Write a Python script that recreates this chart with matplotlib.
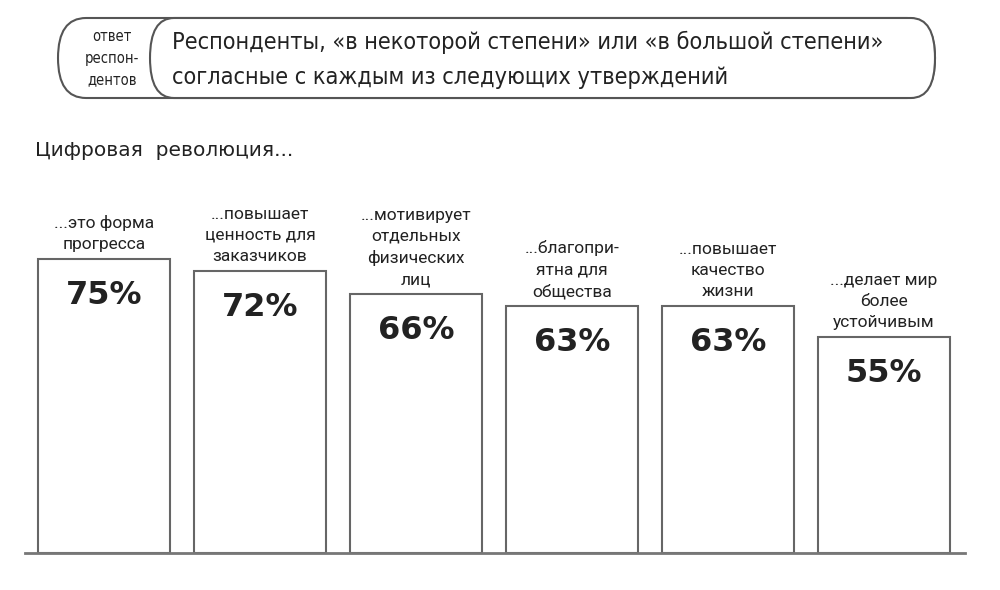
import matplotlib.pyplot as plt
from matplotlib.patches import FancyBboxPatch

# Data
labels = [
    '...это форма\nпрогресса',
    '...повышает\nценность для\nзаказчиков',
    '...мотивирует\nотдельных\nфизических\nлиц',
    '...благопри-\nятна для\nобщества',
    '...повышает\nкачество\nжизни',
    '...делает мир\nболее\nустойчивым',
]
values = [75, 72, 66, 63, 63, 55]
value_labels = ['75%', '72%', '66%', '63%', '63%', '55%']

header_side = 'ответ\nреспон-\nдентов'
header_main = 'Респонденты, «в некоторой степени» или «в большой степени»\nсогласные с каждым из следующих утверждений'
subtitle = 'Цифровая  революция...'

W, H = 1000, 590
fig = plt.figure(figsize=(10, 5.9), dpi=100)

# overlay axes in pixel units for the header
ov = fig.add_axes([0, 0, 1, 1])
ov.set_xlim(0, W)
ov.set_ylim(H, 0)
ov.axis('off')

edge = '#555555'
outer = FancyBboxPatch((58, 18), 877, 80,
                       boxstyle='round,pad=0,rounding_size=28',
                       mutation_aspect=40 / 28,
                       fc='white', ec=edge, lw=1.5)
inner = FancyBboxPatch((150, 18), 785, 80,
                       boxstyle='round,pad=0,rounding_size=24',
                       mutation_aspect=40 / 24,
                       fc='white', ec=edge, lw=1.5)
ov.add_patch(outer)
ov.add_patch(inner)

narrow = ['DejaVu Sans']
ov.text(112, 58, header_side, ha='center', va='center', fontsize=10.5,
        family=narrow, fontstretch='condensed', color='#222222',
        linespacing=1.55)
ov.text(172, 60, header_main, ha='left', va='center', fontsize=16.8,
        family=narrow, fontstretch='condensed', color='#222222',
        linespacing=1.7)
ov.text(35, 150, subtitle, ha='left', va='center', fontsize=14.5,
        family=['DejaVu Sans'], fontstretch='normal', color='#222222')

# bar axes: baseline at y=553 px, 3.92 px per percent
spacing = 156.0
left_px, right_px = 25, 965
base_px = 553
px_per = 3.92
ymax = 115
ax_h = ymax * px_per
ax = fig.add_axes([left_px / W, (H - base_px) / H,
                   (right_px - left_px) / W, ax_h / H])
x0 = -(104 - left_px) / spacing
ax.set_xlim(x0, x0 + (right_px - left_px) / spacing)
ax.set_ylim(0, ymax)
ax.patch.set_alpha(0)

xs = list(range(len(values)))
ax.bar(xs, values, width=132 / spacing, color='white', edgecolor='#666666',
       linewidth=1.5, zorder=2)

for i, (v, lab, vl) in enumerate(zip(values, labels, value_labels)):
    ax.annotate(lab, (i, v), xytext=(0, 5), textcoords='offset points',
                ha='center', va='bottom', fontsize=12.5,
                family=['Roboto', 'DejaVu Sans'], color='#222222',
                linespacing=1.5)
    ax.annotate(vl, (i, v), xytext=(0, -15), textcoords='offset points',
                ha='center', va='top', fontsize=23, fontweight='bold',
                family=['DejaVu Sans'], color='#222222')

for s in ['top', 'right', 'left']:
    ax.spines[s].set_visible(False)
ax.spines['bottom'].set_color('#777777')
ax.spines['bottom'].set_linewidth(2)
ax.set_xticks([])
ax.set_yticks([])

fig.savefig('out.png', dpi=100)
